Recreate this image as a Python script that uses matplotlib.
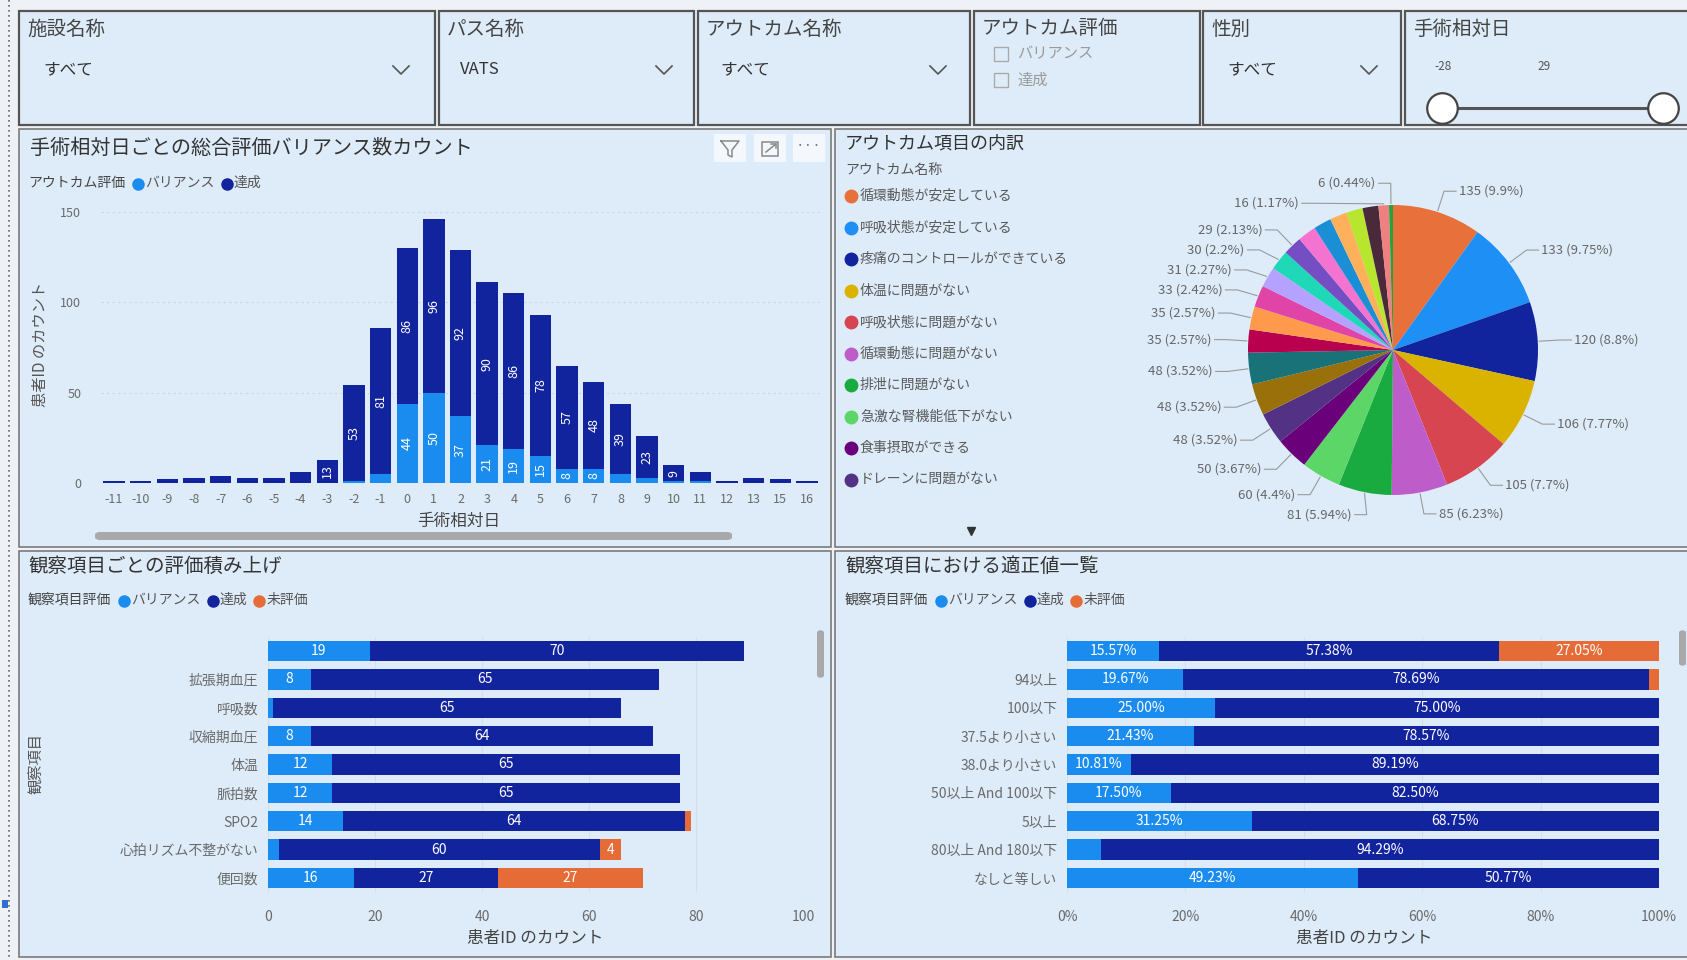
import matplotlib
matplotlib.use('Agg')
import matplotlib.pyplot as plt
from matplotlib.patches import Rectangle, FancyBboxPatch, Polygon
from matplotlib.lines import Line2D
import numpy as np

plt.rcParams['font.family'] = ['Noto Sans CJK JP', 'DejaVu Sans']

# ---------------- data ----------------
days = ['-11', '-10', '-9', '-8', '-7', '-6', '-5', '-4', '-3', '-2', '-1', '0', '1', '2',
        '3', '4', '5', '6', '7', '8', '9', '10', '11', '12', '13', '15', '16']
day_variance = [0, 0, 0, 0, 0, 0, 0, 0, 0, 1, 5, 44, 50, 37, 21, 19, 15, 8, 8, 5, 3, 1, 1, 0, 0, 0, 0]
day_achieved = [1, 1, 2, 3, 4, 3, 3, 6, 13, 53, 81, 86, 96, 92, 90, 86, 78, 57, 48, 39, 23, 9, 5, 1, 3, 2, 1]

outcome_names = ['循環動態が安定している', '呼吸状態が安定している', '疼痛のコントロールができている',
                 '体温に問題がない', '呼吸状態に問題がない', '循環動態に問題がない', '排泄に問題がない',
                 '急激な腎機能低下がない', '食事摂取ができる', 'ドレーンに問題がない']
outcome_counts = [135, 133, 120, 106, 105, 85, 81, 60, 50, 48, 48, 48, 35, 35, 33, 31, 30, 29,
                  28, 27, 26, 25, 24, 16, 6]
outcome_colors = ['#E8703A', '#1E8FF5', '#12239E', '#D9B300', '#D64550', '#BE5DC9', '#1AAB40',
                  '#5BD667', '#6B007B', '#533285', '#99700A', '#197278', '#B8004F', '#FF9A4D',
                  '#E044A7', '#B5A1FF', '#1ED8B8', '#744EC2', '#F472D0', '#1A8FD5', '#FFB05A',
                  '#B8E62E', '#4A2A3A', '#F08080', '#25A23C']
pie_labeled = [True] * 18 + [False] * 5 + [True, True]

obs_items = ['', '拡張期血圧', '呼吸数', '収縮期血圧', '体温', '脈拍数', 'SPO2', '心拍リズム不整がない', '便回数']
obs_variance = [19, 8, 1, 8, 12, 12, 14, 2, 16]
obs_achieved = [70, 65, 65, 64, 65, 65, 64, 60, 27]
obs_unevaluated = [0, 0, 0, 0, 0, 0, 1, 4, 27]

range_items = ['', '94以上', '100以下', '37.5より小さい', '38.0より小さい', '50以上 And 100以下',
               '5以上', '80以上 And 180以下', 'なしと等しい']
range_variance = [15.57, 19.67, 25.00, 21.43, 10.81, 17.50, 31.25, 5.71, 49.23]
range_achieved = [57.38, 78.69, 75.00, 78.57, 89.19, 82.50, 68.75, 94.29, 50.77]
range_unevaluated = [27.05, 1.64, 0, 0, 0, 0, 0, 0, 0]

# ---------------- style ----------------
C_VAR = '#1A8CF0'
C_ACH = '#12239E'
C_UNE = '#E66C37'
PANEL = '#DEECF9'
BG = '#EEF2F6'
BORDER = '#7A7A7A'
TITLE = '#333333'
TICK = '#6A6A6A'

W, H = 1687, 960
fig = plt.figure(figsize=(W / 100, H / 100), dpi=100)
fig.patch.set_facecolor(BG)
R = fig.canvas.get_renderer()


def rect(x0, y0, x1, y1, fc=PANEL, ec=BORDER, lw=1.2, z=-5):
    fig.add_artist(Rectangle((x0 / W, 1 - y1 / H), (x1 - x0) / W, (y1 - y0) / H,
                             transform=fig.transFigure, fc=fc, ec=ec, lw=lw, zorder=z))


def txt(x, y, s, **kw):
    kw.setdefault('va', 'center')
    return fig.text(x / W, 1 - y / H, s, **kw)


def line(xs, ys, **kw):
    fig.add_artist(Line2D([x / W for x in xs], [1 - y / H for y in ys],
                          transform=fig.transFigure, **kw))


def axes_px(x0, y0, x1, y1):
    ax = fig.add_axes([x0 / W, 1 - y1 / H, (x1 - x0) / W, (y1 - y0) / H])
    ax.set_facecolor('none')
    return ax


def dot(x, y, c, ms=8):
    fig.add_artist(Line2D([x / W], [1 - y / H], marker='o', ms=ms, color=c, mec=c,
                          ls='none', transform=fig.transFigure))


def legend_row(x, y, title, items, fs=10):
    t = txt(x, y, title, fontsize=fs, color='#444444')
    x += t.get_window_extent(R).width + 9
    for label, c in items:
        dot(x + 4, y + 1, c)
        x += 11
        t = txt(x, y, label, fontsize=fs, color='#555555')
        x += t.get_window_extent(R).width + 8


def chevron(x, y):
    line([x - 8, x, x + 8], [y - 4, y + 4, y - 4], color='#555555', lw=1.2)


# left dotted edge
line([9, 9], [0, 960], color='#666666', lw=1.2, ls=(0, (1, 2)))
rect(2, 900, 8, 908, fc='#2E6FD0', ec='none')

# ---------------- filter row ----------------
boxes = [(19, 435), (439, 694), (698, 970), (974, 1200), (1203, 1401), (1405, 1690)]
ftitles = ['施設名称', 'パス名称', 'アウトカム名称', 'アウトカム評価', '性別', '手術相対日']
for (x0, x1), t in zip(boxes, ftitles):
    rect(x0, 11, x1, 125, ec='#555555', lw=1.6)
    txt(x0 + 8, 29, t, fontsize=14, color='#444444')
txt(43, 70, 'すべて', fontsize=12, color='#333333')
chevron(401, 70)
txt(460, 69, 'VATS', fontsize=12, color='#333333')
chevron(664, 70)
txt(720, 70, 'すべて', fontsize=12, color='#333333')
chevron(938, 70)
for yy, s in [(54, 'バリアンス'), (80, '達成')]:
    rect(994, yy - 7, 1008, yy + 7, fc='none', ec='#AAAAAA', lw=1.0, z=2)
    txt(1017, yy, s, fontsize=11, color='#9A9A9A')
txt(1227, 70, 'すべて', fontsize=12, color='#333333')
chevron(1369, 70)
txt(1434, 67, '-28', fontsize=8.5, color='#555555')
txt(1537, 67, '29', fontsize=8.5, color='#555555')
line([1442, 1663], [108, 108], color='#555555', lw=2.2)
for cx in (1442, 1663):
    fig.add_artist(Line2D([cx / W], [1 - 108 / H], marker='o', ms=22, mfc='white', mec='#444444',
                          mew=1.6, ls='none', transform=fig.transFigure))

# ---------------- panels ----------------
rect(19, 129, 831, 547)
rect(835, 129, 1690, 547)
rect(19, 551, 831, 957)
rect(835, 551, 1690, 957)

# ---------------- top-left: stacked columns ----------------
txt(30, 148, '手術相対日ごとの総合評価バリアンス数カウント', fontsize=14.5, color=TITLE)
legend_row(28, 183, 'アウトカム評価', [('バリアンス', C_VAR), ('達成', C_ACH)])
for cx in (730, 770, 809):
    rect(cx - 16, 134, cx + 16, 162, fc='#F4F8FC', ec='none', z=1)
# filter funnel icon
line([721, 739, 732, 732, 728, 728, 721], [141, 141, 150, 157, 155, 150, 141], color='#8A8A8A', lw=1.1)
# focus-mode icon (box with diagonal arrow)
rect(762, 142, 778, 156, fc='none', ec='#8A8A8A', lw=1.1, z=3)
line([766, 776], [152, 144], color='#8A8A8A', lw=1.1)
line([771, 776, 776], [144, 144, 148], color='#8A8A8A', lw=1.1)
txt(809, 147, '···', fontsize=11, color='#777777', ha='center')

ax1 = axes_px(100.7, 212, 820.3, 483)
x = np.arange(len(days))
ax1.bar(x, day_variance, width=0.8, color=C_VAR, zorder=3)
ax1.bar(x, day_achieved, width=0.8, bottom=day_variance, color=C_ACH, zorder=3)
for i in range(len(days)):
    v, a = day_variance[i], day_achieved[i]
    if v >= 8:
        ax1.text(i, v / 2, str(v), rotation=90, ha='center', va='center', color='white',
                 fontsize=9, zorder=4)
    if a >= 8:
        ax1.text(i, v + a / 2, str(a), rotation=90, ha='center', va='center', color='white',
                 fontsize=9, zorder=4)
ax1.set_xlim(-0.5, len(days) - 0.5)
ax1.set_ylim(0, 150)
ax1.set_xticks(x)
ax1.set_xticklabels(days)
ax1.set_yticks([0, 50, 100, 150])
ax1.tick_params(length=0, labelsize=9, colors=TICK)
ax1.tick_params(axis='y', pad=14)
ax1.tick_params(axis='x', pad=7)
for s in ax1.spines.values():
    s.set_visible(False)
ax1.yaxis.grid(True, color='#C9D7E4', lw=0.8, ls=(0, (2, 3)), zorder=0)
txt(41, 344, '患者ID のカウント', fontsize=11, color='#555555', rotation=90, ha='center')
txt(459, 521, '手術相対日', fontsize=12, color='#444444', ha='center')
fig.add_artist(FancyBboxPatch((95 / W, 1 - 540 / H), (732 - 95) / W, 8 / H,
                              boxstyle='round,pad=0,rounding_size=0.003',
                              transform=fig.transFigure, fc='#A9A9A9', ec='none', zorder=2))

# ---------------- top-right: pie ----------------
txt(845, 144, 'アウトカム項目の内訳', fontsize=13, color=TITLE)
txt(845, 170, 'アウトカム名称', fontsize=10, color='#555555')
for k, name in enumerate(outcome_names):
    yy = 196 + k * 31.5
    dot(851, yy, outcome_colors[k], ms=9)
    txt(860, yy, name, fontsize=10, color='#5A5A5A')
fig.add_artist(Line2D([971 / W], [1 - 531 / H], marker='v', ms=6, color='#333333', ls='none',
                      transform=fig.transFigure))

axp = axes_px(1248, 205, 1538, 495)
axp.pie(outcome_counts, colors=outcome_colors, startangle=90, counterclock=False, radius=1,
        wedgeprops=dict(linewidth=0))
axp.set_xlim(-1, 1)
axp.set_ylim(-1, 1)
axp.set_aspect('equal')
axp.axis('off')

total = sum(outcome_counts)
cum = np.cumsum([0] + outcome_counts)
px = 1 / 145.0
rel = 1.15
labs = []
for i, v in enumerate(outcome_counts):
    if not pie_labeled[i]:
        continue
    th = np.deg2rad((cum[i] + v / 2) / total * 360)
    pct = round(v / total * 100, 2)
    labs.append(dict(th=th, y=rel * np.cos(th), side=1 if np.sin(th) > 0 else -1,
                     text=f'{v} ({pct:g}%)'))
for side in (1, -1):
    grp = sorted([l for l in labs if l['side'] == side], key=lambda d: -d['y'])
    for j in range(1, len(grp)):
        if grp[j - 1]['y'] - grp[j]['y'] < 20 * px:
            grp[j]['y'] = grp[j - 1]['y'] - 20 * px
for l in labs:
    th, yv, sd = l['th'], l['y'], l['side']
    x0, y0 = 1.01 * np.sin(th), 1.01 * np.cos(th)
    if abs(yv) < rel:
        xe = sd * np.sqrt(rel ** 2 - yv ** 2)
    else:
        xe = rel * np.sin(th)
    xh = xe + sd * 12 * px
    axp.plot([x0, xe, xh], [y0, yv, yv], color='#9A9A9A', lw=0.8, clip_on=False)
    axp.text(xh + sd * 3 * px, yv, l['text'], ha='left' if sd > 0 else 'right', va='center',
             fontsize=9.5, color='#666666', clip_on=False)

# ---------------- bottom-left ----------------
txt(28, 566, '観察項目ごとの評価積み上げ', fontsize=14, color=TITLE)
legend_row(28, 600, '観察項目評価', [('バリアンス', C_VAR), ('達成', C_ACH), ('未評価', C_UNE)])
ax3 = axes_px(268, 636.8, 803, 892.2)
yy = np.arange(len(obs_items))
v = np.array(obs_variance)
a = np.array(obs_achieved)
u = np.array(obs_unevaluated)
ax3.barh(yy, v, height=0.72, color=C_VAR, zorder=3)
ax3.barh(yy, a, height=0.72, left=v, color=C_ACH, zorder=3)
ax3.barh(yy, u, height=0.72, left=v + a, color=C_UNE, zorder=3)
for i in range(len(obs_items)):
    for val, left in ((v[i], 0), (a[i], v[i]), (u[i], v[i] + a[i])):
        if val >= 4:
            ax3.text(left + val / 2, i, str(val), ha='center', va='center', color='white',
                     fontsize=10, zorder=4)
ax3.set_xlim(0, 100)
ax3.set_ylim(len(obs_items) - 0.5, -0.5)
ax3.set_yticks(yy)
ax3.set_yticklabels(obs_items)
ax3.set_xticks([0, 20, 40, 60, 80, 100])
ax3.tick_params(length=0, labelsize=10, colors=TICK)
ax3.tick_params(axis='y', pad=7)
ax3.tick_params(axis='x', pad=13)
for s in ax3.spines.values():
    s.set_visible(False)
ax3.xaxis.grid(True, color='#D3DEEA', lw=0.8, zorder=0)
txt(36, 764, '観察項目', fontsize=11, color='#555555', rotation=90, ha='center')
txt(535, 938, '患者ID のカウント', fontsize=12, color='#444444', ha='center')
fig.add_artist(FancyBboxPatch((817 / W, 1 - 678 / H), 7 / W, 48 / H,
                              boxstyle='round,pad=0,rounding_size=0.003',
                              transform=fig.transFigure, fc='#A9A9A9', ec='none', zorder=2))

# ---------------- bottom-right ----------------
txt(845, 566, '観察項目における適正値一覧', fontsize=14, color=TITLE)
legend_row(845, 600, '観察項目評価', [('バリアンス', C_VAR), ('達成', C_ACH), ('未評価', C_UNE)])
ax4 = axes_px(1067, 636.8, 1659, 892.2)
v = np.array(range_variance)
a = np.array(range_achieved)
u = np.array(range_unevaluated)
ax4.barh(yy, v, height=0.72, color=C_VAR, zorder=3)
ax4.barh(yy, a, height=0.72, left=v, color=C_ACH, zorder=3)
ax4.barh(yy, u, height=0.72, left=v + a, color=C_UNE, zorder=3)
for i in range(len(range_items)):
    for val, left in ((v[i], 0), (a[i], v[i]), (u[i], v[i] + a[i])):
        if val >= 10:
            ax4.text(left + val / 2, i, f'{val:.2f}%', ha='center', va='center', color='white',
                     fontsize=10, zorder=4)
ax4.set_xlim(0, 100)
ax4.set_ylim(len(range_items) - 0.5, -0.5)
ax4.set_yticks(yy)
ax4.set_yticklabels(range_items)
ax4.set_xticks([0, 20, 40, 60, 80, 100])
ax4.set_xticklabels(['0%', '20%', '40%', '60%', '80%', '100%'])
ax4.tick_params(length=0, labelsize=10, colors=TICK)
ax4.tick_params(axis='y', pad=7)
ax4.tick_params(axis='x', pad=13)
for s in ax4.spines.values():
    s.set_visible(False)
ax4.xaxis.grid(True, color='#D3DEEA', lw=0.8, zorder=0)
txt(1364, 938, '患者ID のカウント', fontsize=12, color='#444444', ha='center')
fig.add_artist(FancyBboxPatch((1679 / W, 1 - 666 / H), 7 / W, 36 / H,
                              boxstyle='round,pad=0,rounding_size=0.003',
                              transform=fig.transFigure, fc='#A9A9A9', ec='none', zorder=2))

fig.savefig('out.png', dpi=100, facecolor=fig.get_facecolor())
